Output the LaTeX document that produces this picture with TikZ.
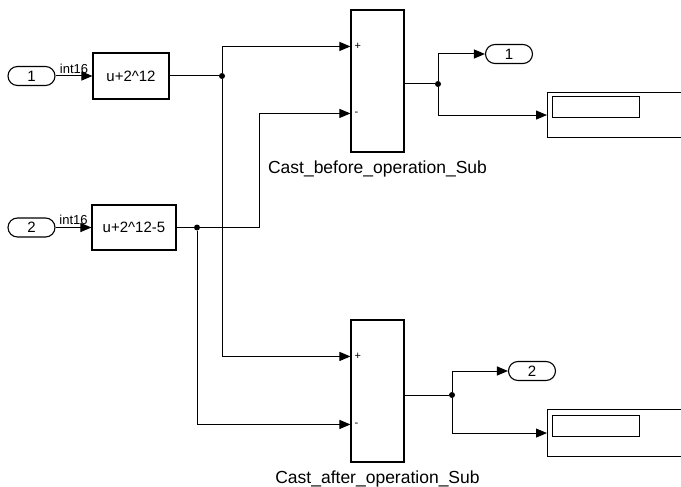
\documentclass[tikz,border=0pt]{standalone}
\usepackage{fontspec}
\setmainfont{Liberation Sans}
\usetikzlibrary{arrows.meta,positioning,calc}

\tikzset{
  blk/.style={draw, line width=1.1pt, inner sep=0pt, font=\fontsize{15}{18}\selectfont},
  iop/.style={draw, line width=1.1pt, rounded corners=9.5pt, minimum width=47pt,
    minimum height=19pt, inner sep=0pt, font=\fontsize{15}{18}\selectfont},
  wire/.style={line width=1pt, -{Triangle[length=11pt,width=9pt]}},
  line/.style={line width=1pt},
  dot/.style={circle, fill, inner sep=0pt, minimum size=6pt},
  lbl/.style={font=\fontsize{17.5}{20}\selectfont},
  typ/.style={font=\fontsize{13}{15}\selectfont, inner sep=2pt},
  sgn/.style={font=\fontsize{11}{12}\selectfont, inner sep=1pt},
}

\begin{document}
\begin{tikzpicture}[x=1pt,y=-1pt]
  \useasboundingbox (0,0) rectangle (681,487);
  \clip (0,0) rectangle (681,487);

  % inputs and gains
  \node[iop] (in1) at (31.5,76) {1};
  \node[iop] (in2) at (31.5,227.5) {2};
  \node[blk, minimum width=76pt, minimum height=46pt] (g1) at (131,76) {u+2\textasciicircum 12};
  \node[blk, minimum width=84pt, minimum height=45pt] (g2) at (134,227.5) {u+2\textasciicircum 12-5};

  % subtract blocks
  \node[blk, minimum width=53pt, minimum height=142pt] (s1) at (377.5,81) {};
  \node[blk, minimum width=53pt, minimum height=142pt] (s2) at (377.5,391) {};
  \coordinate (p1) at ($(s1.north west)+(0,37)$);
  \coordinate (m1) at ($(s1.north west)+(0,104)$);
  \coordinate (p2) at ($(s2.north west)+(0,37)$);
  \coordinate (m2) at ($(s2.north west)+(0,105)$);
  \node[sgn, right=3pt of p1] (s1p) {+};
  \node[sgn, right=3pt of m1] (s1m) {-};
  \node[sgn, right=3pt of p2] (s2p) {+};
  \node[sgn, right=3pt of m2] (s2m) {-};
  \node[lbl, below=5pt of s1] (t1) {Cast\_before\_operation\_Sub};
  \node[lbl, below=5pt of s2] (t2) {Cast\_after\_operation\_Sub};

  % branch points
  \node[dot] (j1) at (222,76) {};
  \node[dot] (j2) at (197,227.5) {};
  \node[dot] (j3) at (438,84) {};
  \node[dot] (j4) at (452,395) {};

  % outputs and displays
  \node[iop] (out1) at (509,54) {1};
  \node[iop] (out2) at (532,371) {2};
  \node[blk, anchor=north west, minimum width=150pt, minimum height=45pt] (d1) at (547,92) {};
  \node[blk, anchor=north west, minimum width=87pt, minimum height=21pt] (d1v) at (552,96) {};
  \node[blk, anchor=north west, minimum width=150pt, minimum height=47pt] (d2) at (547,409) {};
  \node[blk, anchor=north west, minimum width=87pt, minimum height=21pt] (d2v) at (552,415) {};

  % signals
  \draw[wire] (in1) -- (g1) node[typ, midway, above] {int16};
  \draw[wire] (in2) -- (g2) node[typ, midway, above] {int16};
  \draw[line] (g1) -- (j1);
  \draw[line] (g2) -- (j2);
  \draw[wire] (j1) |- (p1);
  \draw[wire] (j1) |- (p2);
  \draw[wire] (j2) -- ++(62,0) |- (m1);
  \draw[wire] (j2) |- (m2);
  \draw[line] (s1.east |- j3) -- (j3);
  \draw[line] (s2.east |- j4) -- (j4);
  \draw[wire] (j3) |- (out1);
  \draw[wire] (j3) |- (d1);
  \draw[wire] (j4) |- (out2);
  \draw[wire] (j4) |- (d2);
\end{tikzpicture}
\end{document}
